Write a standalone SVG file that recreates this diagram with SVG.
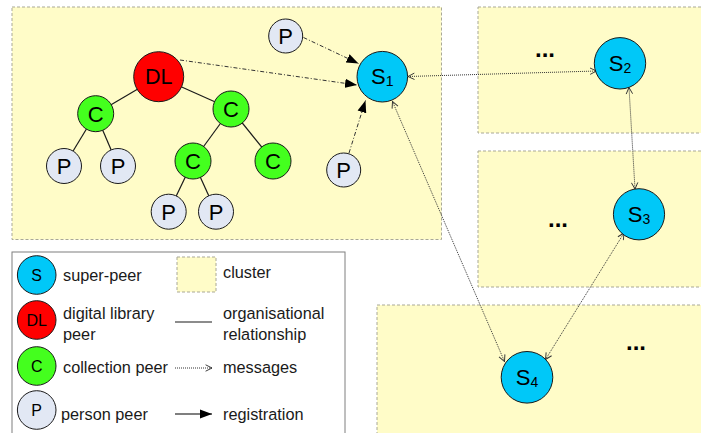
<svg xmlns="http://www.w3.org/2000/svg" width="701" height="433" viewBox="0 0 701 433">
  <style>
    .cluster { fill: #FFFCC8; stroke: #A9A896; stroke-width: 1; stroke-dasharray: 3 2; }
    .node circle { stroke: #1a1a1a; stroke-width: 1; }
    .sp { fill: #00C8F8; }
    .dl { fill: #FF0000; }
    .cp { fill: #44FF1E; }
    .pp { fill: #E2E8F4; }
    .lbl { font-family: "Liberation Sans", Arial, sans-serif; font-size: 22px; fill: #000; text-anchor: middle; }
    .lbl-dl { font-size: 21.5px; }
    .sub { font-size: 14px; }
    .small { font-family: "Liberation Sans", Arial, sans-serif; font-size: 16px; fill: #000; text-anchor: middle; }
    .legend-text { font-family: "Liberation Sans", Arial, sans-serif; font-size: 16.3px; fill: #1a1a1a; }
    .dots { font-family: "Liberation Sans", Arial, sans-serif; font-size: 24px; font-weight: bold; fill: #000; text-anchor: middle; }
    .org { stroke: #1a1a1a; stroke-width: 1.2; fill: none; }
    .reg { stroke: #333; stroke-width: 1; stroke-dasharray: 4 2 1 2; fill: none; }
    .msg { stroke: #333; stroke-width: 1; stroke-dasharray: 1 1; fill: none; }
  </style>
  <defs>
    <marker id="filled" viewBox="0 0 12 10" refX="12" refY="5" markerWidth="12" markerHeight="10" markerUnits="userSpaceOnUse" orient="auto">
      <path d="M0,0.5 L12,5 L0,9.5 Z" fill="#000"/>
    </marker>
    <marker id="open" viewBox="0 0 10 10" refX="9" refY="5" markerWidth="8" markerHeight="8" markerUnits="userSpaceOnUse" orient="auto-start-reverse">
      <path d="M1,1 L9,5 L1,9" fill="none" stroke="#333" stroke-width="1.2"/>
    </marker>
  </defs>

  <!-- clusters -->
  <g id="clusters">
    <rect class="cluster" x="12" y="7" width="429.5" height="232.5"/>
    <rect class="cluster" x="478" y="7" width="230" height="126"/>
    <rect class="cluster" x="478" y="151" width="230" height="136"/>
    <rect class="cluster" x="377" y="305" width="330" height="135"/>
    <text class="dots" x="545" y="57">...</text>
    <text class="dots" x="558" y="227">...</text>
    <text class="dots" x="636" y="350">...</text>
  </g>

  <!-- connectors -->
  <g id="connectors">
    <!-- organisational tree -->
    <line class="org" x1="158.7" y1="76.7" x2="95.7" y2="113.7"/>
    <line class="org" x1="158.7" y1="76.7" x2="231" y2="109"/>
    <line class="org" x1="95.7" y1="113.7" x2="64" y2="166"/>
    <line class="org" x1="95.7" y1="113.7" x2="118" y2="166"/>
    <line class="org" x1="231" y1="109" x2="193" y2="161"/>
    <line class="org" x1="231" y1="109" x2="273" y2="161"/>
    <line class="org" x1="193" y1="161" x2="168.7" y2="211.7"/>
    <line class="org" x1="193" y1="161" x2="216" y2="211.7"/>
    <!-- registrations -->
    <line class="reg" x1="180" y1="60" x2="357" y2="85" marker-end="url(#filled)"/>
    <line class="reg" x1="303.5" y1="37.5" x2="358.5" y2="63.5" marker-end="url(#filled)"/>
    <line class="reg" x1="349" y1="153" x2="365.5" y2="100.5" marker-end="url(#filled)"/>
    <!-- messages between super-peers -->
    <line class="msg" x1="408" y1="76.5" x2="596.5" y2="71" marker-start="url(#open)" marker-end="url(#open)"/>
    <line class="msg" x1="629" y1="87.5" x2="635" y2="189" marker-start="url(#open)" marker-end="url(#open)"/>
    <line class="msg" x1="392.5" y1="101.5" x2="504.5" y2="361.5" marker-start="url(#open)" marker-end="url(#open)"/>
    <line class="msg" x1="624" y1="233" x2="545.5" y2="359.5" marker-start="url(#open)" marker-end="url(#open)"/>
  </g>

  <!-- nodes -->
  <g id="dl" class="node"><circle class="dl" cx="158.7" cy="76.7" r="25"/><text class="lbl lbl-dl" x="158.7" y="84.4">DL</text></g>
  <g id="c1" class="node"><circle class="cp" cx="95.7" cy="113.7" r="18"/><text class="lbl" x="95.7" y="121.6">C</text></g>
  <g id="c2" class="node"><circle class="cp" cx="231" cy="109" r="18"/><text class="lbl" x="231" y="116.9">C</text></g>
  <g id="c3" class="node"><circle class="cp" cx="193" cy="161" r="18"/><text class="lbl" x="193" y="168.9">C</text></g>
  <g id="c4" class="node"><circle class="cp" cx="273" cy="161" r="18"/><text class="lbl" x="273" y="168.9">C</text></g>
  <g id="p1" class="node"><circle class="pp" cx="64" cy="166" r="17.5"/><text class="lbl" x="64" y="173.9">P</text></g>
  <g id="p2" class="node"><circle class="pp" cx="118" cy="166" r="17.5"/><text class="lbl" x="118" y="173.9">P</text></g>
  <g id="p3" class="node"><circle class="pp" cx="168.7" cy="211.7" r="17.5"/><text class="lbl" x="168.7" y="219.6">P</text></g>
  <g id="p4" class="node"><circle class="pp" cx="216" cy="211.7" r="17.5"/><text class="lbl" x="216" y="219.6">P</text></g>
  <g id="p5" class="node"><circle class="pp" cx="285.7" cy="36" r="17"/><text class="lbl" x="285.7" y="43.9">P</text></g>
  <g id="p6" class="node"><circle class="pp" cx="343.7" cy="170" r="17"/><text class="lbl" x="343.7" y="177.9">P</text></g>
  <g id="s1" class="node"><circle class="sp" cx="382.3" cy="76.7" r="25.3"/><text class="lbl" x="382.3" y="84.3">S<tspan class="sub" dy="2">1</tspan></text></g>
  <g id="s2" class="node"><circle class="sp" cx="620" cy="63.3" r="25.7"/><text class="lbl" x="620" y="70.9">S<tspan class="sub" dy="2">2</tspan></text></g>
  <g id="s3" class="node"><circle class="sp" cx="639" cy="214.3" r="25.6"/><text class="lbl" x="639" y="221.9">S<tspan class="sub" dy="2">3</tspan></text></g>
  <g id="s4" class="node"><circle class="sp" cx="527" cy="377.3" r="25.8"/><text class="lbl" x="527" y="384.9">S<tspan class="sub" dy="2">4</tspan></text></g>

  <!-- legend -->
  <g id="legend">
    <rect x="12" y="252" width="333" height="190" fill="#fff" stroke="#7f7f7f" stroke-width="1"/>
    <g class="node"><circle class="sp" cx="36.7" cy="275" r="19.3"/><text class="small" x="36.7" y="280.7">S</text></g>
    <g class="node"><circle class="dl" cx="36.7" cy="320" r="19.3"/><text class="small" x="36.7" y="325.7">DL</text></g>
    <g class="node"><circle class="cp" cx="36.7" cy="366" r="19.3"/><text class="small" x="36.7" y="371.7">C</text></g>
    <g class="node"><circle class="pp" cx="36.7" cy="410" r="19.3"/><text class="small" x="36.7" y="415.7">P</text></g>
    <text class="legend-text" x="63" y="281">super-peer</text>
    <text class="legend-text" x="63" y="319">digital library</text>
    <text class="legend-text" x="63" y="340">peer</text>
    <text class="legend-text" x="63" y="373">collection peer</text>
    <text class="legend-text" x="61" y="420">person peer</text>
    <rect class="cluster" x="177" y="257" width="39" height="35"/>
    <text class="legend-text" x="223" y="278">cluster</text>
    <line class="org" x1="175" y1="322" x2="212" y2="322"/>
    <text class="legend-text" x="223" y="319">organisational</text>
    <text class="legend-text" x="223" y="340">relationship</text>
    <line class="msg" x1="175" y1="368" x2="212" y2="368" marker-end="url(#open)"/>
    <text class="legend-text" x="223" y="373">messages</text>
    <line x1="175" y1="414" x2="212" y2="414" stroke="#000" stroke-width="1.2" marker-end="url(#filled)"/>
    <text class="legend-text" x="223" y="420">registration</text>
  </g>
</svg>
